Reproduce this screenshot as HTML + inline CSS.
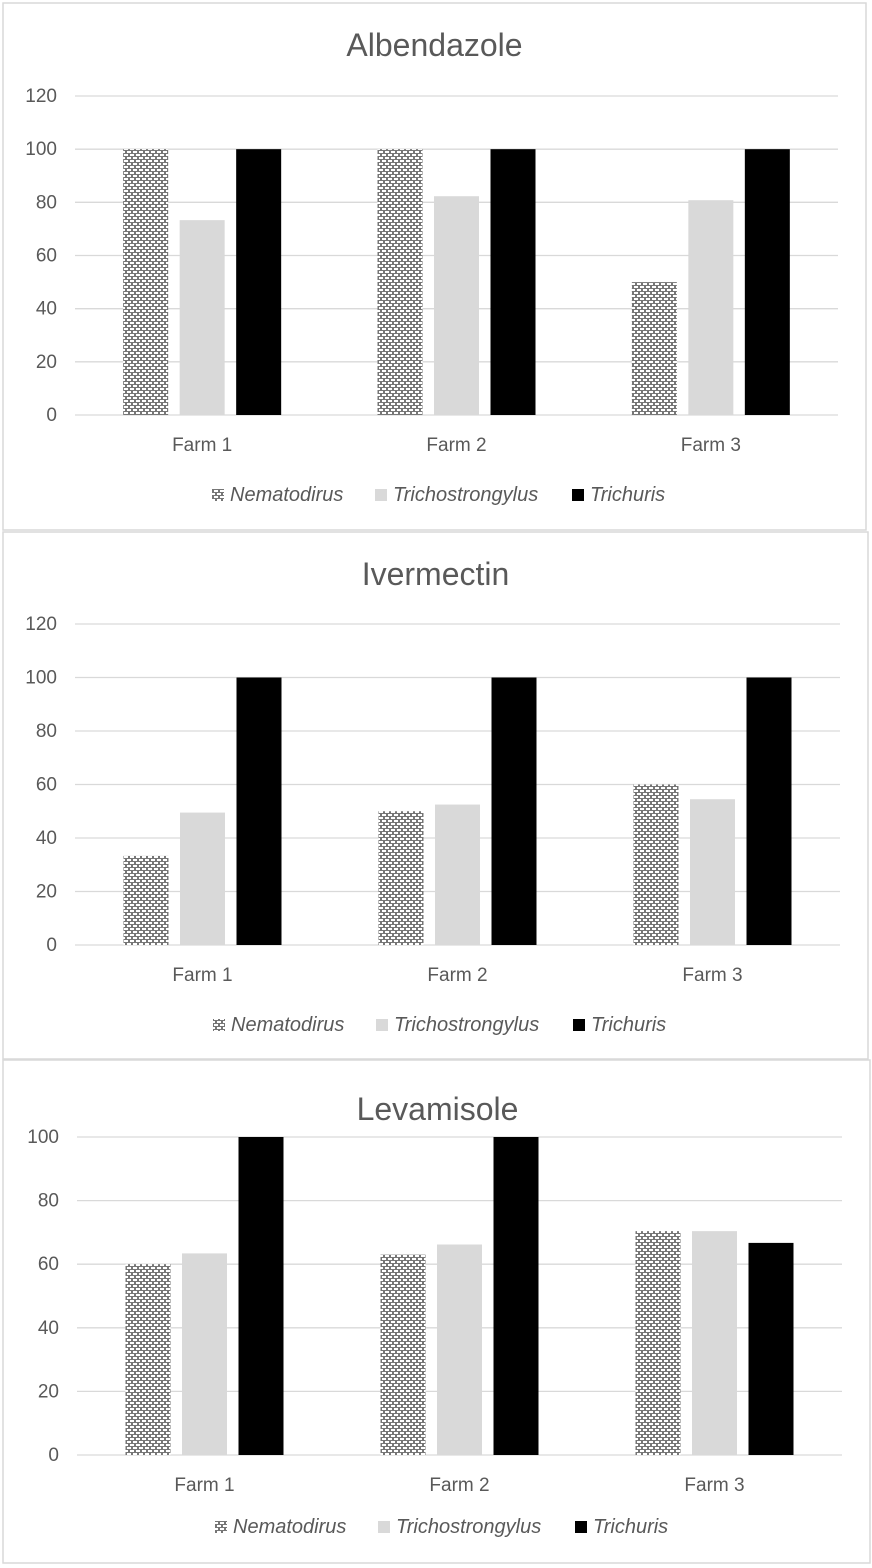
<!DOCTYPE html>
<html><head><meta charset="utf-8">
<style>
body{margin:0;background:#fff;width:872px;height:1568px;overflow:hidden;font-family:"Liberation Sans",sans-serif}
svg{display:block}
</style></head>
<body>
<svg id="root" width="872" height="1568">
<defs>
<pattern id="pat" width="6" height="6" patternUnits="userSpaceOnUse">
<rect width="6" height="6" fill="#767676"/>
<rect x="1" y="1" width="4" height="2" fill="#fff"/>
<rect x="4" y="4" width="4" height="2" fill="#fff"/>
<rect x="-2" y="4" width="4" height="2" fill="#fff"/>
</pattern>
</defs>
</svg>
<script>
const categories=["Farm 1","Farm 2","Farm 3"];
const seriesNames=["Nematodirus","Trichostrongylus","Trichuris"];
const albNematodirus=[100,100,50];
const albTricho=[73.3,82.3,80.8];
const albTrichuris=[100,100,100];
const ivmNematodirus=[33.3,50,60];
const ivmTricho=[49.5,52.5,54.5];
const ivmTrichuris=[100,100,100];
const levNematodirus=[60,63,70.4];
const levTricho=[63.4,66.2,70.4];
const levTrichuris=[100,100,66.7];
const ticks120=[0,20,40,60,80,100,120];
const ticks100=[0,20,40,60,80,100];

const NS="http://www.w3.org/2000/svg";
const root=document.getElementById('root');
function mk(tag,attrs,parent){const e=document.createElementNS(NS,tag);for(const k in attrs)e.setAttribute(k,attrs[k]);(parent||root).appendChild(e);return e;}
const fills=["url(#pat)","#d9d9d9","#000"];

function chart(cfg){
  const g=mk('g',{});
  
  
  const fr=mk('rect',{x:cfg.fx,y:cfg.fy,width:cfg.fw,height:cfg.fh,fill:'#fff',stroke:'#d9d9d9','stroke-width':1.5},g);
  
  
  const t=mk('text',{x:(cfg.x0+cfg.x1)/2-22,y:cfg.titleY,'font-size':32,fill:'#595959','text-anchor':'middle'},g);
  t.textContent=cfg.title;
  
  
  const maxV=cfg.ticks[cfg.ticks.length-1];
  const ys=v=>cfg.y0-(cfg.y0-cfg.yTop)*v/maxV;
  cfg.ticks.forEach(v=>{
    const l=mk('line',{x1:cfg.x0,x2:cfg.x1,y1:ys(v),y2:ys(v),stroke:'#d9d9d9','stroke-width':1.3},g);
    
    
    const tx=mk('text',{x:cfg.x0-18,y:ys(v)+6,'font-size':19,fill:'#595959','text-anchor':'end'},g);
    tx.textContent=v;
    
    
  });
  const cw=(cfg.x1-cfg.x0)/categories.length;
  const bw=45,gap=11.5;
  categories.forEach((c,i)=>{
    const cx=cfg.x0+cw*i+cw/2;
    cfg.series.forEach((arr,s)=>{
      const bx=cx-bw*1.5-gap+s*(bw+gap);
      const r=mk('rect',{x:bx,y:ys(arr[i]),width:bw,height:cfg.y0-ys(arr[i]),fill:fills[s]},g);
      
      
    });
    const lt=mk('text',{x:cx,y:cfg.y0+36,'font-size':19,fill:'#595959','text-anchor':'middle'},g);
    lt.textContent=c;
    
    
  });
  const lx=[cfg.legX,cfg.legX+163,cfg.legX+360];
  seriesNames.forEach((n,s)=>{
    const m=mk('rect',{x:lx[s],y:cfg.legY-12,width:12,height:12,fill:fills[s]},g);
    
    
    const lt=mk('text',{x:lx[s]+18,y:cfg.legY,'font-size':20,fill:'#595959','font-style':'italic'},g);
    lt.textContent=n;
    
    
  });
}
chart({name:'albendazole-chart',title:'Albendazole',fx:3,fy:3,fw:863,fh:527,x0:75,x1:838,y0:415,yTop:96,ticks:ticks120,titleY:56,legX:212,legY:501,
  series:[albNematodirus,albTricho,albTrichuris]});
chart({name:'ivermectin-chart',title:'Ivermectin',fx:3,fy:532,fw:865,fh:527,x0:75,x1:840,y0:945,yTop:624,ticks:ticks120,titleY:585,legX:213,legY:1031,
  series:[ivmNematodirus,ivmTricho,ivmTrichuris]});
chart({name:'levamisole-chart',title:'Levamisole',fx:3,fy:1060,fw:867,fh:503,x0:77,x1:842,y0:1455,yTop:1137,ticks:ticks100,titleY:1120,legX:215,legY:1533,
  series:[levNematodirus,levTricho,levTrichuris]});
</script>
</body></html>
